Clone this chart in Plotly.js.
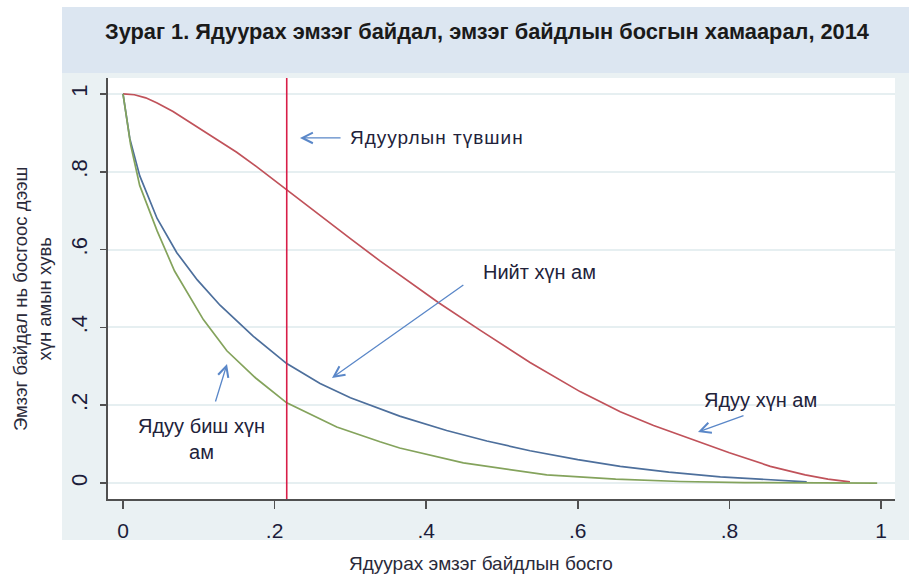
<!DOCTYPE html>
<html><head><meta charset="utf-8">
<script src="https://cdn.plot.ly/plotly-3.0.1.min.js"></script>
<style>html,body{margin:0;padding:0;background:#fff}#chart{width:909px;height:574px}</style>
</head><body><div id="chart"></div>
<script>
// Ядуу хүн ам (poor population)
const poorX = [0, 0.015, 0.03, 0.045, 0.066, 0.09, 0.119, 0.15, 0.177, 0.218, 0.264, 0.30, 0.339, 0.375, 0.416, 0.471, 0.537, 0.603, 0.656, 0.70, 0.757, 0.80, 0.854, 0.90, 0.93, 0.959];
const poorY = [1, 0.998, 0.99, 0.977, 0.955, 0.925, 0.889, 0.85, 0.812, 0.75, 0.68, 0.628, 0.571, 0.52, 0.464, 0.393, 0.31, 0.235, 0.183, 0.148, 0.107, 0.078, 0.043, 0.021, 0.01, 0.003];
// Нийт хүн ам (total population)
const totalX = [0, 0.009, 0.022, 0.045, 0.071, 0.098, 0.128, 0.172, 0.216, 0.26, 0.30, 0.339, 0.365, 0.427, 0.48, 0.537, 0.60, 0.656, 0.72, 0.788, 0.85, 0.902];
const totalY = [1, 0.885, 0.79, 0.68, 0.592, 0.522, 0.457, 0.377, 0.307, 0.256, 0.219, 0.19, 0.172, 0.135, 0.108, 0.083, 0.06, 0.043, 0.028, 0.016, 0.008, 0.003];
// Ядуу биш хүн ам (non-poor population)
const nonPoorX = [0, 0.01, 0.022, 0.045, 0.068, 0.106, 0.137, 0.175, 0.216, 0.282, 0.339, 0.365, 0.449, 0.559, 0.65, 0.735, 0.82, 0.90, 0.995];
const nonPoorY = [1, 0.87, 0.765, 0.648, 0.545, 0.42, 0.34, 0.27, 0.206, 0.144, 0.106, 0.09, 0.052, 0.021, 0.01, 0.004, 0.001, 0, 0];

const povertyLine = 0.216;
const tickVals = [0, 0.2, 0.4, 0.6, 0.8, 1];
const tickText = ['0', '.2', '.4', '.6', '.8', '1'];

const titleText = 'Зураг 1. Ядуурах эмзэг байдал, эмзэг байдлын босгын хамаарал, 2014';
const xTitle = 'Ядуурах эмзэг байдлын босго';
const yTitle = 'Эмзэг байдал нь босгоос дээш<br>хүн амын хувь';
const labelPovertyLine = 'Ядуурлын түвшин';
const labelTotal = 'Нийт хүн ам';
const labelPoor = 'Ядуу хүн ам';
const labelNonPoor = 'Ядуу биш хүн<br>ам';

const SANS = '"Liberation Sans", Arial, sans-serif';
const textColor = '#22223a';
const arrowColor = '#5a87c8';

const traces = [
  {x: poorX, y: poorY, mode: 'lines', line: {color: '#c0525a', width: 1.7}, hoverinfo: 'skip'},
  {x: totalX, y: totalY, mode: 'lines', line: {color: '#4d6f9c', width: 1.7}, hoverinfo: 'skip'},
  {x: nonPoorX, y: nonPoorY, mode: 'lines', line: {color: '#84a35c', width: 1.7}, hoverinfo: 'skip'}
];

function arrow(tipX, tipY, tailX, tailY) {
  return {x: tipX, y: tipY, ax: tailX, ay: tailY, xref: 'x', yref: 'y', axref: 'x', ayref: 'y',
    text: '', showarrow: true, arrowhead: 5, arrowsize: 1.6, arrowwidth: 1.3, arrowcolor: arrowColor,
    standoff: 0, startstandoff: 0};
}
function label(txt, x, y, xanchor, size) {
  return {x: x, y: y, xref: 'x', yref: 'y', text: txt, showarrow: false, xanchor: xanchor || 'center',
    yanchor: 'middle', font: {family: SANS, size: size || 20, color: textColor}};
}

const layout = {
  width: 909, height: 574,
  margin: {l: 108, r: 14, t: 78, b: 75},
  paper_bgcolor: '#ffffff', plot_bgcolor: '#ffffff',
  showlegend: false,
  title: {text: '<b>' + titleText + '</b>', xref: 'container', yref: 'container', x: 487 / 909, y: 1 - 31 / 574,
    xanchor: 'center', yanchor: 'middle', font: {family: SANS, size: 21.8, color: '#1a1a1a'}},
  xaxis: {range: [-0.0198, 1.0185], tickvals: tickVals, ticktext: tickText, showline: true, linecolor: '#505050',
    linewidth: 1.6, ticks: 'outside', ticklen: 8, tickwidth: 1.6, tickcolor: '#505050', showgrid: false, zeroline: false,
    ticklabelstandoff: 4, tickfont: {family: SANS, size: 21, color: '#1c1c3a'}},
  yaxis: {range: [-0.041, 1.041], tickvals: tickVals, ticktext: tickText, tickangle: -90, showline: true,
    linecolor: '#505050', linewidth: 1.6, ticks: 'outside', ticklen: 6, tickwidth: 1.6, tickcolor: '#505050',
    showgrid: true, gridcolor: '#e6eff1', gridwidth: 2, zeroline: false, ticklabelstandoff: 5,
    tickfont: {family: SANS, size: 22, color: '#1c1c3a'}},
  shapes: [
    {type: 'rect', xref: 'paper', yref: 'paper', x0: (62 - 108) / 787, x1: (909 - 108) / 787,
      y0: (499 - 540) / 421, y1: (499 - 73) / 421, fillcolor: '#eaf1f3', line: {width: 0}, layer: 'below'},
    {type: 'rect', xref: 'paper', yref: 'paper', x0: (62 - 108) / 787, x1: (909 - 108) / 787,
      y0: (499 - 73) / 421, y1: (499 - 7) / 421, fillcolor: '#dce6f1', line: {width: 0}, layer: 'below'},
    {type: 'rect', xref: 'paper', yref: 'paper', x0: 0, x1: 1, y0: 0, y1: 1,
      fillcolor: '#ffffff', line: {width: 0}, layer: 'below'},
    {type: 'line', xref: 'x', yref: 'paper', x0: povertyLine, x1: povertyLine, y0: 0, y1: 1,
      line: {color: '#d81e48', width: 1.6}, layer: 'above'}
  ],
  annotations: [
    arrow(0.2335, 0.887, 0.289, 0.887),
    arrow(0.2757, 0.270, 0.451, 0.5116),
    arrow(0.7586, 0.131, 0.8206, 0.1748),
    arrow(0.1372, 0.306, 0.1214, 0.2057),
    label('<span style="letter-spacing:1px">' + labelPovertyLine + '</span>', 0.297, 0.887, 'left', 19),
    label(labelTotal, 0.5501, 0.5424),
    label(labelPoor, 0.8417, 0.2134),
    label(labelNonPoor, 0.1042, 0.113),
    {x: (481 - 108) / 787, y: (499 - 563) / 421, xref: 'paper', yref: 'paper', text: xTitle, showarrow: false,
      xanchor: 'center', yanchor: 'middle', font: {family: SANS, size: 19, color: '#2a2a3a'}},
    {x: (32 - 108) / 787, y: (499 - 299) / 421, xref: 'paper', yref: 'paper', text: yTitle, showarrow: false,
      textangle: -90, xanchor: 'center', yanchor: 'middle', font: {family: SANS, size: 18.5, color: '#2a2a3a'}}
  ]
};

Plotly.newPlot('chart', traces, layout, {staticPlot: true, displayModeBar: false});
</script>
</body></html>
